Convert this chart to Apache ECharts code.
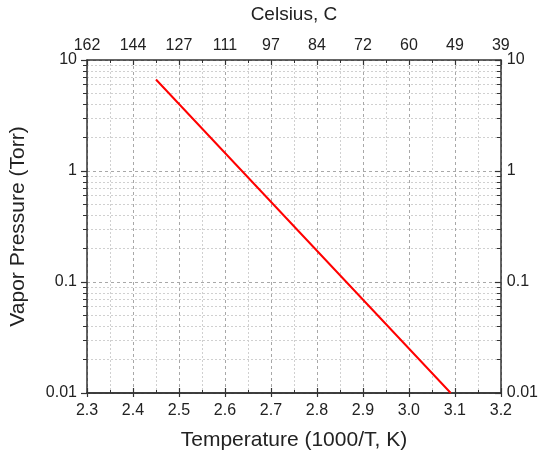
<!DOCTYPE html>
<html>
<head>
<meta charset="utf-8">
<script src="https://cdn.jsdelivr.net/npm/echarts@6/dist/echarts.min.js"></script>
<style>html,body{margin:0;padding:0;background:#fff}#c{width:541px;height:456px}</style>
</head>
<body>
<div id="c"></div>
<script>
// Data
var invTemp = [2.45, 2.637, 2.864, 3.091];      // 1000/T (1/K)
var pressure = [6.67, 1.0, 0.1, 0.01];          // Torr
var bottomTicks = [2.3, 2.4, 2.5, 2.6, 2.7, 2.8, 2.9, 3.0, 3.1, 3.2];
var celsiusLabels = ['162', '144', '127', '111', '97', '84', '72', '60', '49', '39'];
var yLabels = ['0.01', '0.1', '1', '10'];
var yMinorTicks = [0.02,0.03,0.04,0.05,0.06,0.07,0.08,0.09,
                   0.2,0.3,0.4,0.5,0.6,0.7,0.8,0.9,
                   2,3,4,5,6,7,8,9];

var FONT = 'Liberation Sans, Arial, sans-serif';
var AX = '#333';
var TXT = '#222';
var TICKFS = 16;
var lineData = invTemp.map(function (x, i) { return [x, pressure[i]]; });

var chart = echarts.init(document.getElementById('c'), null, {renderer: 'canvas'});
var xBase = {
  type: 'value', min: 2.3, max: 3.2, interval: 0.1,
  axisLine: {show: true, onZero: false, lineStyle: {color: AX, width: 1.5}}
};
function yLabelFmt(v) {
  var idx = Math.round(Math.log10(v)) + 2;
  return yLabels[idx] !== undefined ? yLabels[idx] : '';
}
chart.setOption({
  animation: false,
  grid: {left: 82, right: 38, top: 55, bottom: 60, containLabel: false},
  xAxis: [
    Object.assign({}, xBase, {
      position: 'bottom',
      name: 'Temperature (1000/T, K)', nameLocation: 'middle', nameGap: 37,
      nameTextStyle: {fontFamily: FONT, fontSize: 21, color: TXT},
      axisTick: {show: true, inside: true, length: 5, lineStyle: {color: AX, width: 1.2}},
      minorTick: {show: true, splitNumber: 2, length: 3, lineStyle: {color: AX, width: 1}},
      axisLabel: {fontFamily: FONT, fontSize: TICKFS, color: TXT, margin: 10,
        formatter: function (v) { var i = Math.round((v - 2.3) / 0.1); return bottomTicks[i].toFixed(1); }},
      splitLine: {show: true, lineStyle: {color: '#a8a8a8', type: [3, 3], width: 1}},
      minorSplitLine: {show: true, lineStyle: {color: '#d0d0d0', type: [2, 2], width: 1}}
    }),
    Object.assign({}, xBase, {
      position: 'bottom',
      axisTick: {show: true, inside: false, length: 4, lineStyle: {color: AX, width: 1.2}},
      axisLabel: {show: false}, splitLine: {show: false}
    }),
    Object.assign({}, xBase, {
      position: 'top',
      name: 'Celsius, C', nameLocation: 'middle', nameGap: 36,
      nameTextStyle: {fontFamily: FONT, fontSize: 19, color: TXT},
      axisTick: {show: true, inside: true, length: 5, lineStyle: {color: AX, width: 1.2}},
      minorTick: {show: true, splitNumber: 2, length: 3, lineStyle: {color: AX, width: 1}},
      axisLabel: {fontFamily: FONT, fontSize: TICKFS, color: TXT, margin: 6,
        formatter: function (v) { var i = Math.round((v - 2.3) / 0.1); return celsiusLabels[i]; }},
      splitLine: {show: false}
    })
  ],
  yAxis: [
    {
      type: 'log', logBase: 10, min: 0.01, max: 10, position: 'left',
      name: 'Vapor Pressure (Torr)', nameLocation: 'middle', nameGap: 58,
      nameTextStyle: {fontFamily: FONT, fontSize: 21, color: TXT},
      axisLine: {show: true, lineStyle: {color: AX, width: 1.5}},
      axisTick: {show: true, inside: false, length: 6, lineStyle: {color: AX, width: 1.2}},
      axisLabel: {fontFamily: FONT, fontSize: TICKFS, color: TXT, margin: 10, formatter: yLabelFmt},
      splitLine: {show: true, lineStyle: {color: '#a8a8a8', type: [3, 3], width: 1}}
    },
    {
      type: 'log', logBase: 10, min: 0.01, max: 10, position: 'right',
      axisLine: {show: true, lineStyle: {color: AX, width: 1.5}},
      axisTick: {show: true, inside: true, length: 6, lineStyle: {color: AX, width: 1.2}},
      axisLabel: {fontFamily: FONT, fontSize: TICKFS, color: TXT, margin: 6, formatter: yLabelFmt},
      splitLine: {show: false}
    },
    {
      type: 'log', logBase: 10, min: 0.01, max: 10, position: 'left',
      axisLine: {show: false},
      axisTick: {show: true, inside: false, length: 4, customValues: yMinorTicks, lineStyle: {color: AX, width: 1}},
      axisLabel: {show: false},
      splitLine: {show: true, lineStyle: {color: '#d0d0d0', type: [2, 2], width: 1}}
    },
    {
      type: 'log', logBase: 10, min: 0.01, max: 10, position: 'right',
      axisLine: {show: false},
      axisTick: {show: true, inside: true, length: 4, customValues: yMinorTicks, lineStyle: {color: AX, width: 1}},
      axisLabel: {show: false},
      splitLine: {show: false}
    }
  ],
  series: [{
    type: 'line', xAxisIndex: 0, yAxisIndex: 0,
    data: lineData, showSymbol: false, symbol: 'none',
    lineStyle: {color: '#ff0000', width: 2}, z: 5
  }]
});
</script>
</body>
</html>
